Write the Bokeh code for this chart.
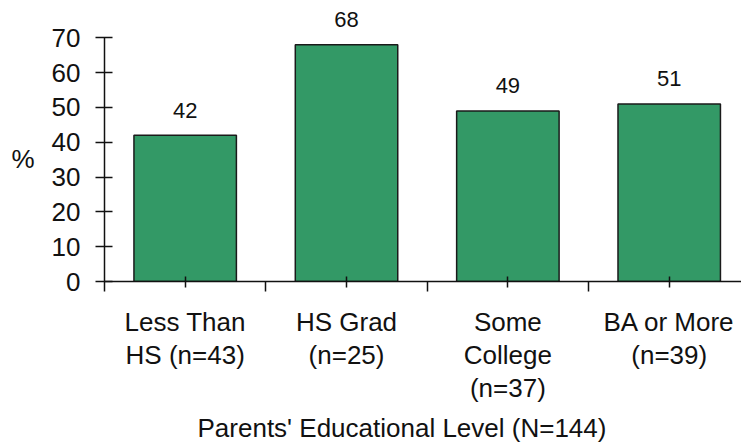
import numpy as np
from bokeh.plotting import figure
from bokeh.models import (ColumnDataSource, Range1d, FixedTicker, LabelSet, LinearAxis, Title)
from bokeh.core.properties import value
from bokeh.embed import file_html
from bokeh.resources import INLINE

# Share of students by parents' educational level
categories = ["Less Than\nHS (n=43)", "HS Grad\n(n=25)", "Some\nCollege\n(n=37)", "BA or More\n(n=39)"]
values = [42, 68, 49, 51]
y_ticks = [0, 10, 20, 30, 40, 50, 60, 70]
x_title = "Parents' Educational Level (N=144)"
y_title = "%"

FONT = "Liberation Sans"
INK = "#111111"

centers = np.arange(len(categories)) + 0.5
source = ColumnDataSource(dict(x=centers, top=values, label=[str(v) for v in values]))

p = figure(width=741, height=448, output_backend="svg", toolbar_location=None,
           x_range=Range1d(0, 3.948), y_range=Range1d(0, 80.7),
           min_border_left=104, min_border_right=0, min_border_top=0, min_border_bottom=166)
p.outline_line_color = None
p.grid.visible = False
p.background_fill_color = "white"
p.border_fill_color = "white"

p.vbar(x="x", top="top", width=0.635, bottom=0, source=source,
       fill_color="#339966", line_color="#1a1a1a", line_width=1.5)

labels = LabelSet(x="x", y="top", text="label", source=source, y_offset=17.5,
                  text_align="center", text_baseline="alphabetic",
                  text_font=value(FONT), text_font_size="22px", text_color=INK)
p.add_layout(labels)

# x axis: category labels at centres, short marks at the boundaries
xa = p.xaxis[0]
xa.ticker = FixedTicker(ticks=list(centers), minor_ticks=list(np.arange(len(categories) + 1)))
xa.major_label_overrides = {float(c): t for c, t in zip(centers, categories)}
xa.major_tick_in = 5
xa.major_tick_out = 6
xa.minor_tick_in = 0
xa.minor_tick_out = 10
xa.axis_line_width = 1.5
xa.major_tick_line_width = 1.5
xa.minor_tick_line_width = 1.5
xa.axis_line_color = INK
xa.major_tick_line_color = INK
xa.minor_tick_line_color = INK
xa.major_label_text_font = FONT
xa.major_label_text_font_size = "26px"
xa.major_label_text_line_height = 1.1
xa.major_label_text_color = INK
xa.major_label_standoff = 15

ya = p.yaxis[0]
ya.ticker = FixedTicker(ticks=y_ticks)
ya.bounds = (0, 70)
ya.major_tick_in = 8
ya.major_tick_out = 9
ya.minor_tick_line_color = None
ya.axis_line_width = 1.5
ya.major_tick_line_width = 1.5
ya.axis_line_color = INK
ya.major_tick_line_color = INK
ya.major_label_text_font = FONT
ya.major_label_text_font_size = "26px"
ya.major_label_text_color = INK
ya.major_label_standoff = 15

# "%" unit marker, set level with the middle of the value scale
unit_pos = 35.3
unit_axis = LinearAxis(ticker=FixedTicker(ticks=[unit_pos]),
                       major_label_overrides={unit_pos: y_title},
                       axis_line_color=None, major_tick_line_color=None,
                       minor_tick_line_color=None, major_tick_out=0, major_tick_in=0,
                       major_label_standoff=14, major_label_text_font=FONT,
                       major_label_text_font_size="26px", major_label_text_color=INK)
p.add_layout(unit_axis, "left")

# axis title under the category labels
p.add_layout(Title(text=x_title, align="left", offset=93, standoff=11,
                   text_font=FONT, text_font_size="26px", text_font_style="normal",
                   text_color=INK), "below")

open("out.html", "w").write(file_html(p, INLINE))
